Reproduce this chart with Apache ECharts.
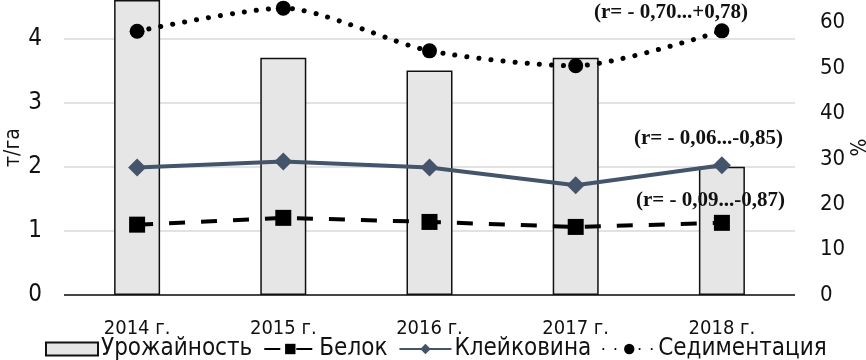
<!DOCTYPE html>
<html>
<head>
<meta charset="utf-8">
<script src="https://cdn.jsdelivr.net/npm/echarts@6/dist/echarts.min.js"></script>
<style>
html,body{margin:0;padding:0;background:#fff;}
#main{width:866px;height:360px;}
</style>
</head>
<body>
<div id="main"></div>
<script>
var years = ['2014 г.', '2015 г.', '2016 г.', '2017 г.', '2018 г.'];
var urozhai = [4.6, 3.7, 3.5, 3.7, 2.0];          // т/га
var belok = [15.5, 17.0, 16.1, 15.0, 15.9];        // %
var kleikovina = [28.1, 29.4, 28.1, 24.2, 28.6];   // %
var sedim = [58.1, 63.2, 53.8, 50.5, 58.2];        // %
var notes = ['(r= - 0,70...+0,78)', '(r= - 0,06...-0,85)', '(r= - 0,09...-0,87)'];

var narrow = "'DejaVu Sans Condensed', 'Liberation Sans Narrow', 'Liberation Sans', sans-serif";
var myChart = echarts.init(document.getElementById('main'));

var option = {
	animation: false,
	grid: { left: 64, right: 71, top: 0, bottom: 65, outerBoundsMode: 'none', containLabel: false },
	legend: {
		top: 332,
		left: 40,
		itemGap: 11,
		itemWidth: 52,
		itemHeight: 13,
		textStyle: { fontFamily: narrow, fontSize: 24, lineHeight: 24, color: '#111', padding: [0, 0, 0, -2] },
		data: [{ name: 'Урожайность', icon: 'rect' }, 'Белок', 'Клейковина', 'Седиментация']
	},
	xAxis: {
		type: 'category',
		data: years,
		axisLine: { show: false },
		axisTick: { show: false },
		axisLabel: { fontFamily: narrow, fontSize: 20, color: '#111', margin: 24 }
	},
	yAxis: [
		{
			type: 'value', min: 0, max: 4.6, interval: 1,
			name: 'т/га', nameLocation: 'middle', nameGap: 40, nameRotate: 90, nameMoveOverlap: false,
			nameTextStyle: { fontFamily: narrow, fontSize: 21, color: '#111' },
			axisLine: { show: false },
			axisTick: { show: false },
			axisLabel: { fontFamily: narrow, fontSize: 24, color: '#111', margin: 22, showMaxLabel: false },
			splitLine: { show: true, showMaxLine: false, lineStyle: { color: '#d9d9d9', width: 1.5 } }
		},
		{
			type: 'value', min: 0, max: 65, interval: 10,
			name: '%', nameLocation: 'middle', nameGap: 55, nameRotate: 90, nameMoveOverlap: false,
			nameTextStyle: { fontFamily: narrow, fontSize: 21, color: '#111' },
			axisLine: { show: false },
			axisTick: { show: false },
			axisLabel: { fontFamily: narrow, fontSize: 22, color: '#111', margin: 25, showMaxLabel: false },
			splitLine: { show: false }
		}
	],
	series: [
		{
			name: 'Урожайность', type: 'bar', yAxisIndex: 0,
			barWidth: 46,
			itemStyle: { color: '#e6e6e6', borderColor: '#111', borderWidth: 1.5 },
			data: urozhai,
			z: 1
		},
		{
			name: 'Белок', type: 'line', yAxisIndex: 1,
			symbol: 'rect', symbolSize: 16,
			itemStyle: { color: '#000' },
			lineStyle: { color: '#000', width: 4, type: [16, 16] },
			data: belok, z: 3
		},
		{
			name: 'Клейковина', type: 'line', yAxisIndex: 1,
			symbol: 'diamond', symbolSize: 18,
			itemStyle: { color: '#44546a' },
			lineStyle: { color: '#44546a', width: 4 },
			data: kleikovina, z: 3
		},
		{
			name: 'Седиментация', type: 'line', yAxisIndex: 1,
			symbol: 'circle', symbolSize: 15,
			smooth: 0.25,
			itemStyle: { color: '#000' },
			lineStyle: { color: '#000', width: 5, type: [0.1, 12], cap: 'round' },
			data: sedim, z: 3
		},
		{
			// нижняя линия оси
			type: 'line', yAxisIndex: 0, silent: true, symbol: 'none',
			data: [],
			markLine: {
				silent: true, symbol: 'none', label: { show: false },
				lineStyle: { color: '#111', width: 1.5, type: 'solid' },
				data: [{ yAxis: 0 }]
			}
		}
	],
	graphic: [
		{ type: 'text', z: 100, left: 594, top: 2, style: { text: notes[0], fontFamily: 'Liberation Serif', fontWeight: 'bold', fontSize: 21, fill: '#111' } },
		{ type: 'text', z: 100, left: 634, top: 128, style: { text: notes[1], fontFamily: 'Liberation Serif', fontWeight: 'bold', fontSize: 21, fill: '#111' } },
		{ type: 'text', z: 100, left: 636, top: 190, style: { text: notes[2], fontFamily: 'Liberation Serif', fontWeight: 'bold', fontSize: 21, fill: '#111' } }
	]
};
myChart.setOption(option);
</script>
</body>
</html>
